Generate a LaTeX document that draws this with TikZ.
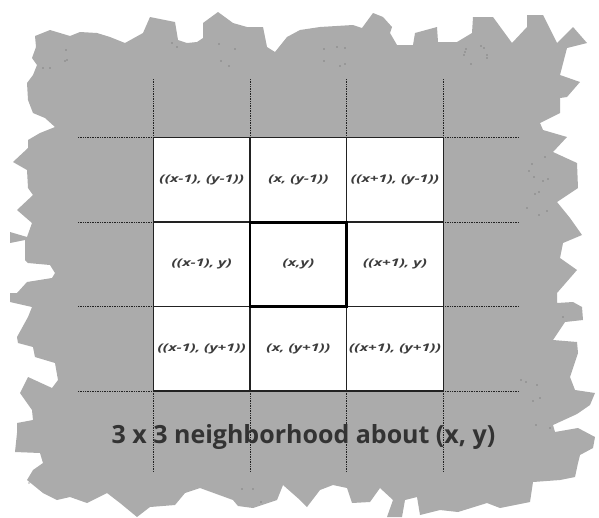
\documentclass[tikz,border=0pt]{standalone}
\usepackage{fontspec}
\setmainfont{Open Sans}
\usepackage{graphicx}
\definecolor{paper}{HTML}{ABABAB}
\definecolor{gridc}{HTML}{222222}
\definecolor{celltext}{HTML}{3C3C3C}
\definecolor{titlec}{HTML}{333333}
\definecolor{speck}{HTML}{555555}
\tikzset{
  cellbox/.style={draw=gridc, line width=1.3pt, fill=white, minimum width=96.7pt, minimum height=84.5pt, inner sep=0pt, font=\fontsize{10.5}{12}\selectfont\bfseries\itshape, text=celltext},
  centerbox/.style={draw=black, line width=2.6pt, minimum width=96.7pt, minimum height=84.5pt, inner sep=0pt},
  dotline/.style={draw=gridc, line width=1pt, dash pattern=on 0.9pt off 0.8pt},
  specks/.style={fill=speck},
}
\newcommand{\ct}[1]{\scalebox{1.5}[1]{#1}}
\begin{document}
\begin{tikzpicture}[x=1pt,y=-1pt]
\useasboundingbox (0,0) rectangle (599,517);
% torn paper background
\fill[paper] (35,36) -- (50,30) -- (70,36) -- (80,32) -- (97,33) -- (110,37) -- (125,43) -- (143,33) -- (150,17) -- (175,22) -- (178,40) -- (187,43) -- (197,42) -- (203,38) -- (203,23) -- (218,12) -- (233,23) -- (247,27) -- (263,27) -- (267,47) -- (275,52) -- (287,37) -- (300,30) -- (320,27) -- (353,25) -- (362,28) -- (373,13) -- (383,17) -- (392,27) -- (390,33) -- (397,45) -- (413,45) -- (415,33) -- (437,27) -- (438,42) -- (457,42) -- (472,33) -- (473,17) -- (493,17) -- (512,43) -- (527,27) -- (527,15) -- (543,15) -- (557,43) -- (573,27) -- (587,43) -- (567,48) -- (560,75) -- (580,82) -- (567,97) -- (560,98) -- (560,113) -- (540,123) -- (543,130) -- (567,137) -- (553,152) -- (577,163) -- (578,188) -- (557,202) -- (570,218) -- (582,235) -- (563,243) -- (560,258) -- (577,270) -- (557,293) -- (557,303) -- (573,302) -- (582,307) -- (583,320) -- (565,322) -- (553,340) -- (577,342) -- (578,353) -- (570,377) -- (575,390) -- (595,393) -- (590,405) -- (577,414) -- (553,425) -- (555,432) -- (578,428) -- (595,437) -- (593,448) -- (580,455) -- (578,463) -- (575,477) -- (560,480) -- (533,482) -- (530,502) -- (500,508) -- (487,503) -- (458,512) -- (440,510) -- (420,515) -- (417,497) -- (405,500) -- (402,517) -- (387,517) -- (393,500) -- (380,488) -- (370,502) -- (352,503) -- (347,488) -- (333,485) -- (320,490) -- (307,507) -- (300,500) -- (283,485) -- (277,500) -- (253,508) -- (238,506) -- (233,500) -- (200,488) -- (185,493) -- (175,505) -- (150,507) -- (137,517) -- (120,503) -- (107,493) -- (87,503) -- (70,497) -- (57,500) -- (43,493) -- (27,480) -- (33,470) -- (43,463) -- (40,453) -- (15,452) -- (17,433) -- (17,423) -- (33,420) -- (32,410) -- (20,393) -- (28,377) -- (52,388) -- (58,380) -- (55,363) -- (35,357) -- (33,347) -- (18,343) -- (17,337) -- (28,317) -- (32,307) -- (10,302) -- (10,293) -- (17,293) -- (27,282) -- (52,278) -- (55,273) -- (50,265) -- (28,263) -- (25,260) -- (25,240) -- (10,243) -- (10,232) -- (27,237) -- (32,223) -- (17,210) -- (33,195) -- (28,188) -- (27,170) -- (13,162) -- (28,148) -- (28,140) -- (40,133) -- (55,127) -- (45,118) -- (33,113) -- (28,100) -- (27,83) -- (33,75) -- (37,65) -- (32,58) -- (36,47) -- cycle;
% specks
\foreach \p in {(66,50),(65,61),(67,60),(43,68),(50,68),(172,43),(177,47),(219,44),(235,49),(221,61),(229,66),(324,49),(337,47),(345,48),(324,61),(340,66),(345,64),(465,52),(466,49),(464,55),(481,46),(484,48),(487,55),(487,58),(471,64),(545,157),(532,164),(529,171),(534,177),(543,181),(548,179),(535,194),(539,192),(527,208),(539,215),(547,211),(563,317),(521,380),(526,382),(537,385),(533,401),(540,398),(29,483),(242,489),(253,489),(261,502),(536,425),(550,428)}
  \fill[specks] \p circle (0.7);
% dotted extension lines
\foreach \x in {153.3,250,346.7,443.3} {
  \draw[dotline] (\x,79) -- (\x,137.3);
  \draw[dotline] (\x,391) -- (\x,471);
}
\foreach \y in {137.3,222.3,306.7,391} {
  \draw[dotline] (78,\y) -- (153.3,\y);
  \draw[dotline] (443.3,\y) -- (519,\y);
}
% cells
\node[cellbox] (c11) at (201.7,179.8) {\ct{((x-1), (y-1))}};
\node[cellbox] (c12) at (298.3,179.8) {\ct{(x, (y-1))}};
\node[cellbox] (c13) at (395,179.8) {\ct{((x+1), (y-1))}};
\node[cellbox] (c21) at (201.7,264.5) {\ct{((x-1), y)}};
\node[cellbox] (c22) at (298.3,264.5) {\ct{(x,y)}};
\node[cellbox] (c23) at (395,264.5) {\ct{((x+1), y)}};
\node[cellbox] (c31) at (201.7,348.8) {\ct{((x-1), (y+1))}};
\node[cellbox] (c32) at (298.3,348.8) {\ct{(x, (y+1))}};
\node[cellbox] (c33) at (395,348.8) {\ct{((x+1), (y+1))}};
\node[centerbox] (ctr) at (c22.center) {};
% title
\node[font=\fontsize{25}{28}\selectfont\bfseries, text=titlec, inner sep=0pt] (title) at (303.5,437) {3 x 3 neighborhood about (x, y)};
\end{tikzpicture}
\end{document}
